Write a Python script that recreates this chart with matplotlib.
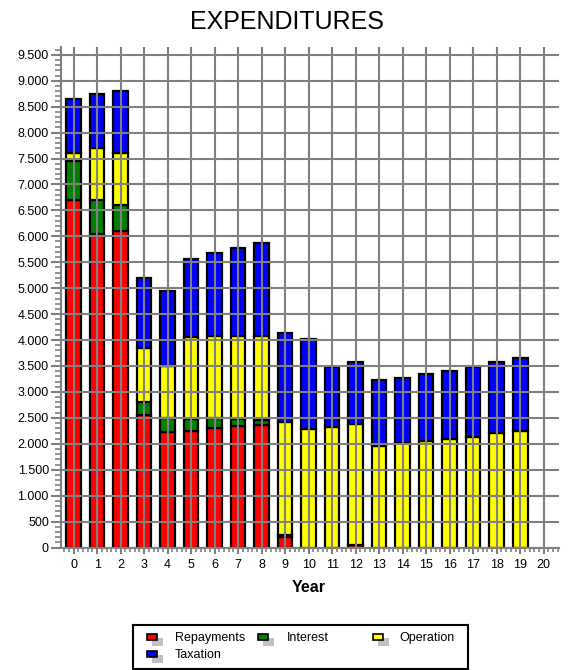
import matplotlib
matplotlib.use("Agg")
import matplotlib.pyplot as plt
from matplotlib.patches import Rectangle
from matplotlib.ticker import MultipleLocator, FuncFormatter
import numpy as np

plt.rcParams['font.family'] = ['Liberation Sans', 'DejaVu Sans']

# --- Data ---
years = list(range(20))
repayments = [6700, 6050, 6100, 2550, 2220, 2250, 2300, 2350, 2370, 200,
              0, 0, 40, 0, 0, 0, 0, 0, 0, 0]
interest = [750, 650, 500, 250, 280, 230, 200, 120, 80, 40,
            0, 0, 0, 0, 0, 0, 0, 0, 0, 0]
operation = [150, 1000, 1000, 1050, 1000, 1570, 1580, 1610, 1630, 2180,
             2290, 2320, 2340, 1960, 2010, 2060, 2100, 2140, 2200, 2250]
taxation = [1050, 1050, 1200, 1350, 1450, 1510, 1590, 1690, 1790, 1710,
            1730, 1160, 1190, 1260, 1260, 1280, 1300, 1340, 1370, 1400]

series_names = ['Repayments', 'Interest', 'Operation', 'Taxation']
series_colors = ['#ff0000', '#008000', '#ffff00', '#0000ff']
series_values = [repayments, interest, operation, taxation]

# --- Figure ---
W, H = 570, 670
fig = plt.figure(figsize=(W / 100, H / 100), dpi=100)
ax = fig.add_axes([60.7 / W, 1 - 547.5 / H, (559 - 60.7) / W, (547.5 - 47) / H])

grid_col = '#808080'
bottom = np.zeros(len(years))
for name, col, vals in zip(series_names, series_colors, series_values):
    ax.bar(years, vals, width=0.62, bottom=bottom, color=col,
           edgecolor='black', linewidth=1.6, zorder=1)
    bottom += np.array(vals)

ax.set_xlim(-0.55, 20.65)
ax.set_ylim(0, 9650)
ax.xaxis.set_major_locator(MultipleLocator(1))
ax.xaxis.set_minor_locator(MultipleLocator(0.2))
ax.yaxis.set_major_locator(MultipleLocator(500))
ax.yaxis.set_minor_locator(MultipleLocator(100))
ax.set_xticks(range(21))
ax.yaxis.set_major_formatter(FuncFormatter(lambda v, p: f"{int(v):,}".replace(',', '.')))

ax.set_axisbelow(False)
ax.grid(True, which='major', color=grid_col, linewidth=1.5)
for s in ['top', 'right']:
    ax.spines[s].set_visible(False)
for s in ['left', 'bottom']:
    ax.spines[s].set_color(grid_col)
    ax.spines[s].set_linewidth(1.5)

ax.tick_params(axis='y', which='major', length=7.5, width=1.5, color=grid_col,
               pad=1, labelsize=9)
ax.tick_params(axis='y', which='minor', length=4.3, width=1.2, color=grid_col)
ax.tick_params(axis='x', which='major', length=4.5, width=1.5, color=grid_col,
               pad=4, labelsize=9)
ax.tick_params(axis='x', which='minor', length=3, width=1.2, color=grid_col)

fig.text(287 / W, 1 - 22 / H, 'EXPENDITURES', ha='center', va='center', fontsize=18)
fig.text(309 / W, 1 - 587 / H, 'Year', ha='center', va='center',
         fontsize=11.5, fontweight='bold')

# --- Legend box ---
lx0, ly0, lx1, ly1 = 133, 625, 468, 669
lax = fig.add_axes([lx0 / W, 1 - ly1 / H, (lx1 - lx0) / W, (ly1 - ly0) / H])
lax.set_xlim(0, lx1 - lx0)
lax.set_ylim(ly1 - ly0, 0)
lax.set_xticks([])
lax.set_yticks([])
for s in lax.spines.values():
    s.set_color('black')
    s.set_linewidth(1.5)

slots = [(14, 42, 14), (125, 154, 14), (240, 266, 14), (14, 42, 31)]
for (hx, tx, ry), name, col in zip(slots, series_names, series_colors):
    lax.add_patch(Rectangle((hx + 5, ry - 1), 11, 8, facecolor='#c0c0c0', edgecolor='none'))
    lax.add_patch(Rectangle((hx, ry - 5), 10, 5.5, facecolor=col,
                            edgecolor='black', linewidth=1.2))
    lax.text(tx, ry - 1, name, ha='left', va='center', fontsize=9)

fig.savefig('out.png', dpi=100)
